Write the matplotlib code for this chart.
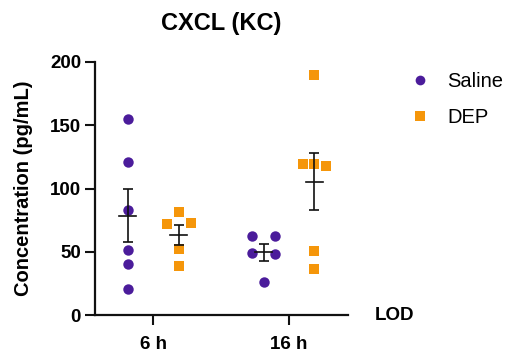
import matplotlib
matplotlib.use("Agg")
import matplotlib.pyplot as plt
import numpy as np
from matplotlib.lines import Line2D

plt.rcParams['font.family'] = ['Liberation Sans', 'DejaVu Sans']

title = "CXCL (KC)"
ylabel = "Concentration (pg/mL)"
timepoints = ["6 h", "16 h"]
series = ["Saline", "DEP"]
yticks = [0, 50, 100, 150, 200]

saline_6h = [154.7, 120.7, 83.0, 51.1, 40.3, 20.6]
dep_6h = [81.7, 71.9, 73.0, 52.2, 38.7]
saline_16h = [62.2, 62.5, 49.0, 48.0, 25.8]
dep_16h = [189.5, 119.0, 119.5, 117.5, 50.6, 36.6]

# horizontal scatter offsets (layout only)
jit_saline_6h = [0, 0, 0, 0, 0, 0]
jit_dep_6h = [0, -1, 1, 0, 0]
jit_saline_16h = [-1, 1, -1, 1, 0]
jit_dep_16h = [0, -1, 0, 1, 0, 0]

purple = "#4B1C9B"
orange = "#F5960A"

W, H = 507, 363
fig = plt.figure(figsize=(W / 100, H / 100), dpi=100)
ax = fig.add_axes([95 / W, 1 - 315 / H, (348 - 95) / W, (315 - 62) / H])

group_off = 0.1875
jit = 0.088
groups = [
    (0, -group_off, saline_6h, jit_saline_6h, purple, 'o', 7.5),
    (0, group_off, dep_6h, jit_dep_6h, orange, 's', 7.0),
    (1, -group_off, saline_16h, jit_saline_16h, purple, 'o', 7.5),
    (1, group_off, dep_16h, jit_dep_16h, orange, 's', 7.0),
]
for xc, off, vals, jj, col, mk, ms in groups:
    vals = np.array(vals)
    xs = xc + off + np.array(jj) * jit
    ax.plot(xs, vals, linestyle='none', marker=mk, color=col, markersize=ms,
            markeredgewidth=0, zorder=3)
    m = vals.mean()
    sem = vals.std(ddof=1) / np.sqrt(len(vals))
    x0 = xc + off
    ax.plot([x0 - 0.063, x0 + 0.063], [m, m], color='#111111', lw=1.2, zorder=4)
    ax.errorbar([x0], [m], yerr=[sem], fmt='none', ecolor='#111111',
                elinewidth=1.2, capsize=3.8, capthick=1.2, zorder=4)

ax.set_xlim(-0.427, 1.434)
ax.set_ylim(0, 200)
ax.set_xticks([0, 1])
ax.set_xticklabels(timepoints, fontsize=13.5, fontweight='bold')
ax.set_yticks(yticks)
ax.set_yticklabels([str(v) for v in yticks], fontsize=13.5, fontweight='bold')
ax.tick_params(axis='both', width=1.5, length=7, color='#111111', pad=3)
ax.tick_params(axis='x', pad=8)
for s in ['top', 'right']:
    ax.spines[s].set_visible(False)
for s in ['left', 'bottom']:
    ax.spines[s].set_linewidth(1.6)
    ax.spines[s].set_color('#111111')
ax.spines['bottom'].set_zorder(5)

ax.set_ylabel(ylabel, fontsize=14.5, fontweight='bold', labelpad=12)
ax.set_title(title, fontsize=17, fontweight='bold', pad=23)

fig.text(375 / W, 1 - 316 / H, "LOD", fontsize=13.5, fontweight='bold',
         ha='left', va='center')

# legend
handles = [Line2D([], [], linestyle='none', marker='o', color=purple, markersize=7, markeredgewidth=0),
           Line2D([], [], linestyle='none', marker='s', color=orange, markersize=6.5, markeredgewidth=0)]
fig.legend(handles, series, loc='upper left', bbox_to_anchor=(408 / W, 1 - 72 / H),
           frameon=False, fontsize=14.5, handlelength=1.2, handletextpad=0.75,
           labelspacing=0.85, borderaxespad=0, borderpad=0)

fig.savefig("out.png", dpi=100)
